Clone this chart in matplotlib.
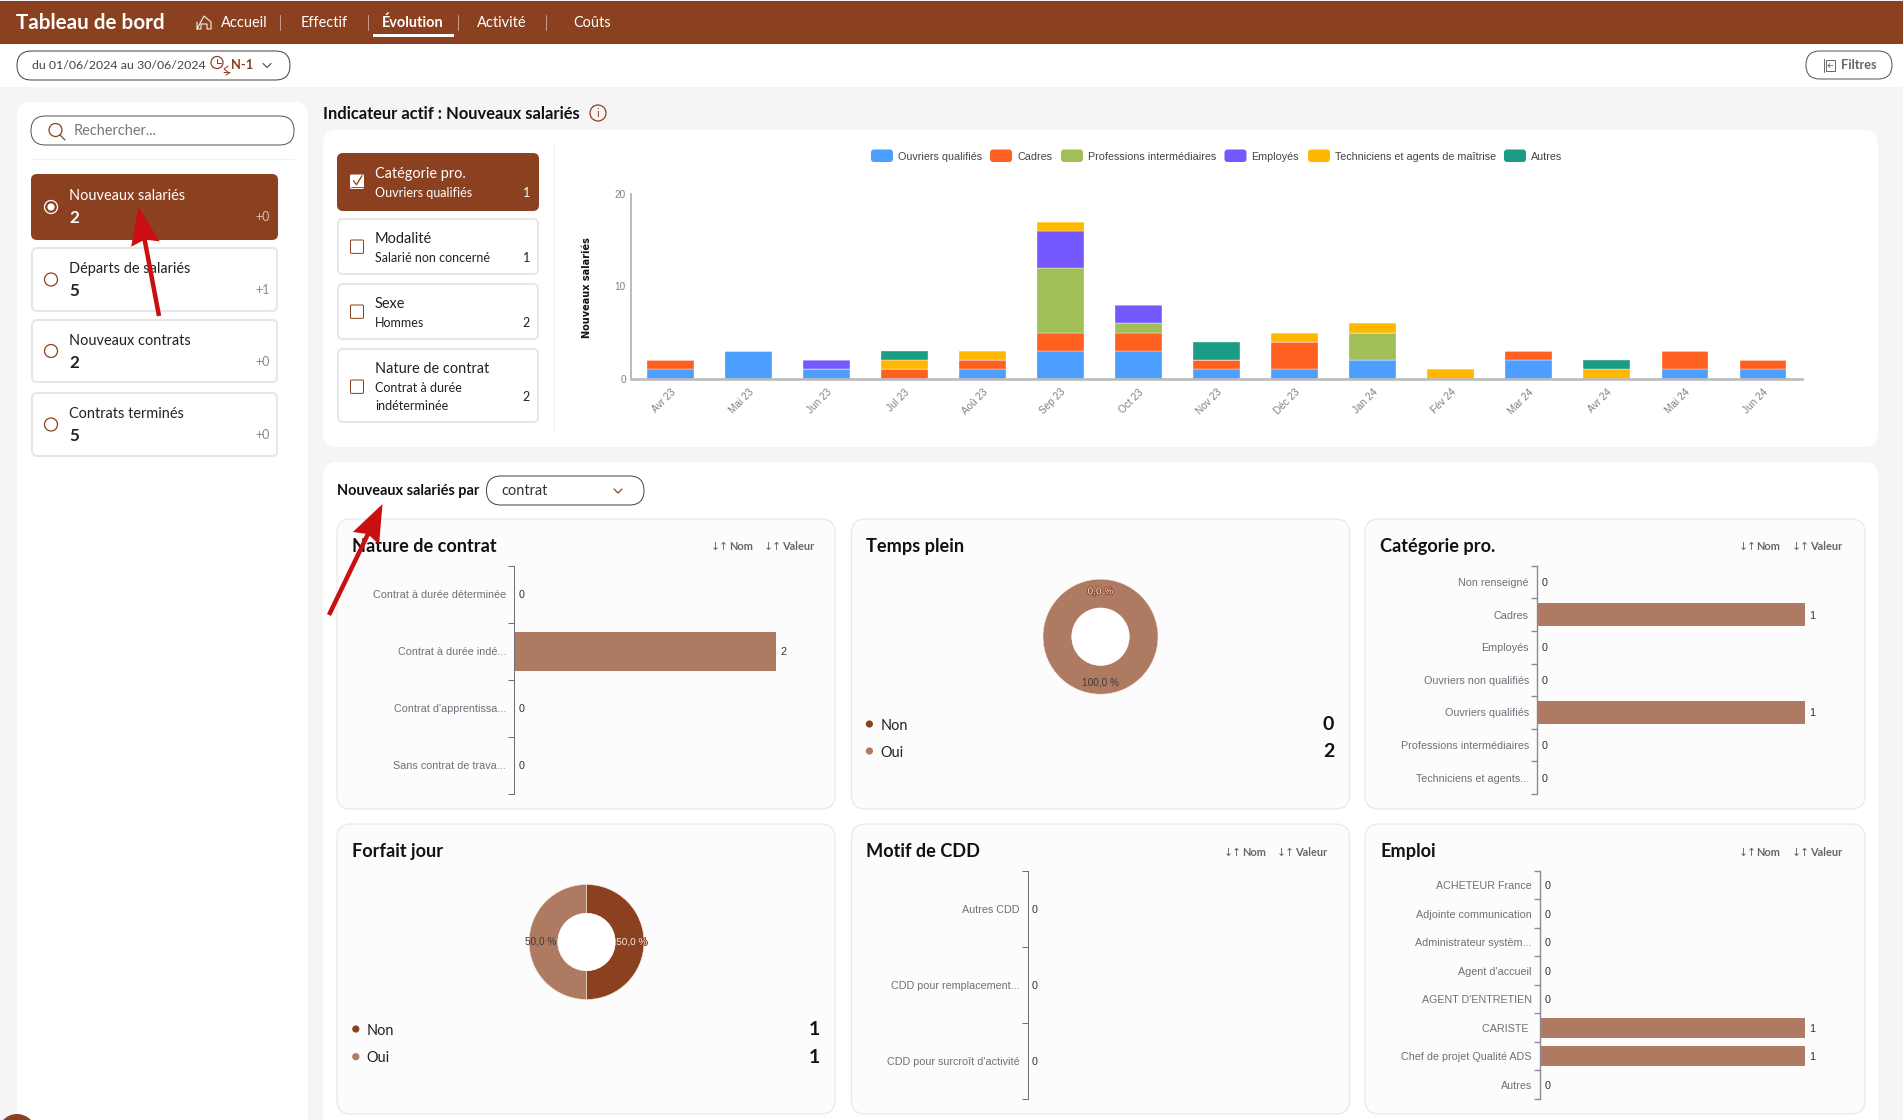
import matplotlib
matplotlib.use("Agg")
import matplotlib.pyplot as plt
import matplotlib.patheffects as pe
from matplotlib.patches import FancyBboxPatch, FancyArrow, Circle, Rectangle

W, H = 1903, 1120
BROWN = "#8B4120"
LIGHT = "#AF7A62"
AXIS = "#6E7079"

# stacked bars of the top chart
months = ["Avr 23", "Mai 23", "Jun 23", "Jul 23", "Aoû 23", "Sep 23", "Oct 23", "Nov 23",
          "Déc 23", "Jan 24", "Fév 24", "Mar 24", "Avr 24", "Mai 24", "Jun 24"]
ouvriers = [1, 3, 1, 0, 1, 3, 3, 1, 1, 2, 0, 2, 0, 1, 1]
cadres = [1, 0, 0, 1, 1, 2, 2, 1, 3, 0, 0, 1, 0, 2, 1]
professions = [0, 0, 0, 0, 0, 7, 1, 0, 0, 3, 0, 0, 0, 0, 0]
employes = [0, 0, 1, 0, 0, 4, 2, 0, 0, 0, 0, 0, 0, 0, 0]
techniciens = [0, 0, 0, 1, 1, 1, 0, 0, 1, 1, 1, 0, 1, 0, 0]
autres = [0, 0, 0, 1, 0, 0, 0, 2, 0, 0, 0, 0, 1, 0, 0]
series_names = ["Ouvriers qualifiés", "Cadres", "Professions intermédiaires", "Employés",
                "Techniciens et agents de maîtrise", "Autres"]
series_colors = ["#4C9EFF", "#FF5F1F", "#A0BF56", "#7559FF", "#FFB700", "#1B9C85"]

# small cards
nature_names = ["Contrat à durée déterminée", "Contrat à durée indé...", "Contrat d'apprentissa...", "Sans contrat de trava..."]
nature_values = [0, 2, 0, 0]
categorie_names = ["Non renseigné", "Cadres", "Employés", "Ouvriers non qualifiés", "Ouvriers qualifiés",
                   "Professions intermédiaires", "Techniciens et agents..."]
categorie_values = [0, 1, 0, 0, 1, 0, 0]
motif_names = ["Autres CDD", "CDD pour remplacement...", "CDD pour surcroît d'activité"]
motif_values = [0, 0, 0]
emploi_names = ["ACHETEUR France", "Adjointe communication", "Administrateur systèm...", "Agent d'accueil",
                "AGENT D'ENTRETIEN", "CARISTE ", "Chef de projet Qualité ADS", "Autres"]
emploi_values = [0, 0, 0, 0, 0, 1, 1, 0]
donut_names = ["Non", "Oui"]
temps_plein = [0, 2]
forfait_jour = [1, 1]

fig = plt.figure(figsize=(W / 100, H / 100), dpi=100, facecolor="#F5F5F5")
bg = fig.add_axes([0, 0, 1, 1])
bg.set_xlim(0, W)
bg.set_ylim(H, 0)
bg.axis("off")


def box(x0, y0, x1, y1, r=0, fc="white", ec="none", lw=1.0, ax=bg):
    p = FancyBboxPatch((x0, y0), x1 - x0, y1 - y0, boxstyle=f"round,pad=0,rounding_size={r}",
                       fc=fc, ec=ec, lw=lw * 0.72)
    ax.add_patch(p)


def txt(x, y, s, px=14, color="#222222", weight="normal", ha="left", family="Lato", ax=bg):
    return ax.text(x, y + 1.2, s, fontsize=px * 0.72, color=color, fontweight=weight, ha=ha, va="center", family=family)


def line(xs, ys, color, lw=1.0):
    bg.plot(xs, ys, color=color, lw=lw * 0.72, solid_capstyle="round")


def chevron(x, y, color="#555555", s=4):
    line([x - s, x, x + s], [y - s / 2, y + s / 2, y - s / 2], color, 1.2)


def inset(x0, y0, x1, y1):
    a = fig.add_axes([x0 / W, 1 - y1 / H, (x1 - x0) / W, (y1 - y0) / H])
    a.patch.set_alpha(0)
    return a


def card(x0, y0, x1, y1, active):
    if active:
        box(x0, y0, x1, y1, 6, BROWN)
    else:
        box(x0 + 1, y0 + 1, x1 - 1, y1 - 1, 5, "white", "#E6E6E6", 2)


# header
bg.add_patch(Rectangle((0, 44), W, 43, fc="white", ec="none"))
bg.add_patch(Rectangle((0, 1), W, 43, fc=BROWN, ec="none"))
txt(16, 22, "Tableau de bord", 20.7, "white", "bold")
line([197, 197, 204, 211, 211, 207, 207, 201, 201, 197], [22, 29, 16, 22, 29, 29, 24, 24, 29, 29], "white", 1)
nav = [("Accueil", 221), ("Effectif", 301), ("Évolution", 382), ("Activité", 477), ("Coûts", 573)]
for name, x in nav:
    txt(x, 22, name, 14.5, "white", "bold" if name == "Évolution" else "normal")
for x in [280, 368, 457.5, 546]:
    line([x, x], [15, 30], "#C49A85", 1)
bg.add_patch(Rectangle((373, 34), 81, 2.6, fc="white", ec="none"))

# date and filter pills
box(17, 51, 290, 80, 14.5, "white", "#444444", 1)
txt(31.5, 64, "du 01/06/2024 au 30/06/2024", 12.4, "#444444")
bg.add_patch(Circle((217, 62.5), 6, fc="none", ec=BROWN, lw=0.9))
line([217, 217, 221], [58.5, 63, 63], BROWN)
line([228, 224, 228], [66, 69, 72], BROWN)
line([224, 230, 226], [72.5, 72.5, 75], BROWN)
txt(231, 64, "N-1", 13, BROWN, "bold")
chevron(267, 65.5)
box(1806, 51, 1892, 79, 14, "white", "#555555", 1)
bg.add_patch(Rectangle((1826, 60), 9, 11, fc="none", ec="#666666", lw=0.7))
line([1823.5, 1823.5], [59, 72], "#666666", 1)
line([1833, 1828, 1830], [65.5, 65.5, 63.5], "#666666", 0.8)
line([1828, 1830], [65.5, 67.5], "#666666", 0.8)
txt(1841, 64, "Filtres", 12.8, "#666666", "bold")

# left column
box(17, 102, 308, 1140, 14)
box(31, 116, 294, 145, 14.5, "white", "#555555", 1)
bg.add_patch(Circle((55.5, 130), 6.5, fc="none", ec=BROWN, lw=0.9))
line([60, 65], [135, 140], BROWN, 1.2)
txt(74, 130, "Rechercher...", 14.5, "#777777")
line([31, 294], [159, 159], "#F0F0F0", 1)
indicators = [("Nouveaux salariés", "2", "+0", 174, 240), ("Départs de salariés", "5", "+1", 247, 312),
              ("Nouveaux contrats", "2", "+0", 319, 383), ("Contrats terminés", "5", "+0", 392, 457)]
for i, (label, val, delta, y0, y1) in enumerate(indicators):
    active = i == 0
    card(31, y0, 278, y1, active)
    fg = "white" if active else "#222222"
    ym = (y0 + y1) / 2
    txt(69, y0 + 20.5, label, 14.5, fg)
    txt(69, y0 + 43, val, 17, fg, "bold")
    txt(270, y0 + 42, delta, 12.5, "#D9BEB0" if active else "#888888", ha="right")
    bg.add_patch(Circle((51, ym), 6.5, fc="none", ec="white" if active else BROWN, lw=0.9))
    if active:
        bg.add_patch(Circle((51, ym), 3.6, fc="white", ec="none"))

# active indicator title and panel
txt(323, 112.5, "Indicateur actif : Nouveaux salariés", 16.5, "#111111", "bold")
bg.add_patch(Circle((598, 113), 8, fc="none", ec=BROWN, lw=0.9))
txt(598, 112, "i", 11, BROWN, ha="center")
box(323, 130, 1878, 447, 14)
line([554, 554], [145, 433], "#EEEEEE", 1)
sub_cards = [("Catégorie pro.", ["Ouvriers qualifiés"], "1", 153, 211), ("Modalité", ["Salarié non concerné"], "1", 218, 275),
             ("Sexe", ["Hommes"], "2", 283, 340), ("Nature de contrat", ["Contrat à durée", "indéterminée"], "2", 348, 423)]
for i, (label, subs, val, y0, y1) in enumerate(sub_cards):
    active = i == 0
    card(337, y0, 539, y1, active)
    fg = "white" if active else "#222222"
    txt(375, y0 + 19.5, label, 14.5, fg)
    for k, s in enumerate(subs):
        txt(375, y0 + 39 + 18 * k, s, 12.5, fg)
    txt(530, y0 + 39 + 9 * (len(subs) - 1), val, 12.5, fg, ha="right")
    yb = y0 + 28.7 if i < 3 else y0 + 38.7
    box(350.5, yb - 6.7, 363.5, yb + 6.7, 1, "white", "#FFFFFF" if active else BROWN, 1)
    if active:
        line([353.5, 356.5, 362], [yb - 1, yb + 3, yb - 6], BROWN, 1.3)
        line([350.5, 363.5], [yb + 5.5, yb + 5.5], "#666666", 1)

# legend of the stacked chart
legend_x = [871, 990, 1061, 1224.5, 1308, 1504]
for x, name, c in zip(legend_x, series_names, series_colors):
    box(x, 149.5, x + 22, 162, 3, c)
    txt(x + 27, 155.5, name, 10.75, "#444444", family="Liberation Sans")

# stacked chart
ax = inset(631.4, 194, 1802, 378.7)
bottom = [0] * len(months)
columns = [ouvriers, cadres, professions, employes, techniciens, autres]
for col, c in zip(columns, series_colors):
    ax.bar(range(len(months)), col, 0.6, bottom=bottom, color=c, edgecolor="white", linewidth=0.25)
    bottom = [b + v for b, v in zip(bottom, col)]
ax.set_xlim(-0.5, 14.5)
ax.set_ylim(0, 20)
ax.set_yticks([0, 10, 20])
ax.set_xticks(range(len(months)))
ax.set_xticklabels(months, rotation=45, ha="right", va="top", rotation_mode="anchor", family="Liberation Sans",
                   fontsize=7.2, color="#808080")
ax.tick_params(axis="y", length=0, pad=4, labelsize=7.2, labelcolor="#808080")
ax.tick_params(axis="x", length=0, pad=6)
for s in ["top", "right"]:
    ax.spines[s].set_visible(False)
for s in ["left", "bottom"]:
    ax.spines[s].set_color("#BBBBBB")
ax.spines["left"].set_linewidth(1.4)
ax.spines["bottom"].set_linewidth(1.9)
for lab in ax.get_yticklabels():
    lab.set_family("Liberation Sans")
ax.set_axisbelow(False)
txt(587.5, 286, "Nouveaux salariés", 9.8, "#111111", "bold", ha="center", family="DejaVu Sans").set(rotation=90)

# second panel
box(323, 462, 1878, 1140, 14)
txt(337, 489.5, "Nouveaux salariés par", 14.5, "#111111", "bold")
box(486.5, 476, 644, 505, 14.5, "white", "#444444", 1)
txt(501, 489.5, "contrat", 14.5, "#333333")
chevron(618, 491, BROWN)

col_x = [(337, 835), (851.5, 1349.5), (1365, 1865)]
row_y = [(519, 809), (824, 1114)]
titles = [["Nature de contrat", "Temps plein", "Catégorie pro."], ["Forfait jour", "Motif de CDD", "Emploi"]]
for r, (y0, y1) in enumerate(row_y):
    for c, (x0, x1) in enumerate(col_x):
        box(x0, y0, x1, y1, 14, "#FCFCFC", "#E8E8E8", 1.2)
        txt(x0 + 15, y0 + 26.5, titles[r][c], 18.2, "#111111", "bold")


def sort_labels(x, y):
    txt(x, y - 0.5, "↓↑", 10.8, "#666666", family="DejaVu Sans")
    txt(x + 18, y - 1, "Nom", 11, "#666666", "bold")
    txt(x + 53, y - 0.5, "↓↑", 10.8, "#666666", family="DejaVu Sans")
    txt(x + 71.5, y - 1, "Valeur", 11, "#666666", "bold")


sort_labels(711, 546)
sort_labels(1738.5, 546)
sort_labels(1224, 852)
sort_labels(1738.5, 852)


def hbar(x0, x1, y0, y1, names, values, xmax, axis_color=AXIS, axis_w=1.0):
    a = inset(x0, y0, x1, y1)
    pos = range(len(names))
    bars = a.barh(pos, values, 0.69, color=LIGHT)
    labels = a.bar_label(bars, fmt="%d", padding=3.2, fontsize=7.75, color="#333333", family="Liberation Sans", annotation_clip=False)
    for t in labels:
        t.set_va("center_baseline")
    a.set_xlim(0, xmax)
    a.set_ylim(len(names) - 0.5, -0.5)
    a.set_xticks([])
    a.set_yticks(list(pos))
    a.set_yticklabels(names, family="Liberation Sans", fontsize=7.75, color=AXIS, va="center_baseline")
    a.set_yticks([p - 0.5 for p in range(len(names) + 1)], minor=True)
    a.tick_params(axis="y", which="major", length=0, pad=5.8)
    a.tick_params(axis="y", which="minor", length=4, width=axis_w * 0.72, color=axis_color)
    for s in ["top", "right", "bottom"]:
        a.spines[s].set_visible(False)
    a.spines["left"].set_color(axis_color)
    a.spines["left"].set_linewidth(axis_w * 0.72)
    return a


hbar(514, 776, 566, 793.7, nature_names, nature_values, 2)
hbar(1537, 1805, 565.7, 794, categorie_names, categorie_values, 1, "#8A8C93", 1.4)
hbar(1027.5, 1300, 870.7, 1099, motif_names, motif_values, 1)
hbar(1540, 1805, 870.7, 1099, emploi_names, emploi_values, 1, "#8A8C93", 1.4)


def donut(cx, cy, values, dot_x, text_x, val_x, ys):
    R = 57.5 * 1.05
    a = inset(cx - R, cy - R, cx + R, cy + R)
    wedges, texts, autos = a.pie(values, colors=[BROWN, LIGHT], startangle=90, counterclock=False, radius=1,
                                 wedgeprops={"width": 0.5, "edgecolor": "#F3E9E4", "linewidth": 0.4},
                                 autopct=lambda p: f"{p:.1f} %".replace(".", ","), pctdistance=0.79,
                                 textprops={"family": "Liberation Sans", "fontsize": 7.2})
    a.set_xlim(-1.05, 1.05)
    a.set_ylim(-1.05, 1.05)
    a.add_patch(Circle((0, 0), 0.5, fc="white", ec="none"))
    autos[0].set_color("#F5E6DE")
    autos[0].set_path_effects([pe.withStroke(linewidth=1.2, foreground=BROWN)])
    autos[1].set_color("#3A3A3A")
    for k, y in enumerate(ys):
        bg.add_patch(Circle((dot_x, y), 3.6, fc=[BROWN, LIGHT][k], ec="none"))
        txt(text_x, y + 0.5, donut_names[k], 14.5, "#222222")
        txt(val_x, y - 0.5, str(values[k]), 19.5, "#111111", "bold", ha="right")


donut(1100.5, 636.7, temps_plein, 869.4, 880.5, 1334, [724, 751])
donut(586.5, 942, forfait_jour, 355.8, 366.8, 820, [1029, 1056.7])

# red annotation arrows and page corner, above everything
top = fig.add_axes([0, 0, 1, 1], zorder=10)
top.set_xlim(0, W)
top.set_ylim(H, 0)
top.axis("off")
top.patch.set_alpha(0)
for (xa, ya), (xb, yb) in [((159, 316), (138.4, 206.7)), ((329, 615), (382.5, 504))]:
    top.add_patch(FancyArrow(xa, ya, xb - xa, yb - ya, width=4.5, head_width=29, head_length=38,
                             length_includes_head=True, overhang=0.1, fc="#C90F10", ec="none"))
top.add_patch(Circle((17, 1133), 19, fc=BROWN, ec="none"))

fig.savefig("out.png", dpi=100, facecolor=fig.get_facecolor())
